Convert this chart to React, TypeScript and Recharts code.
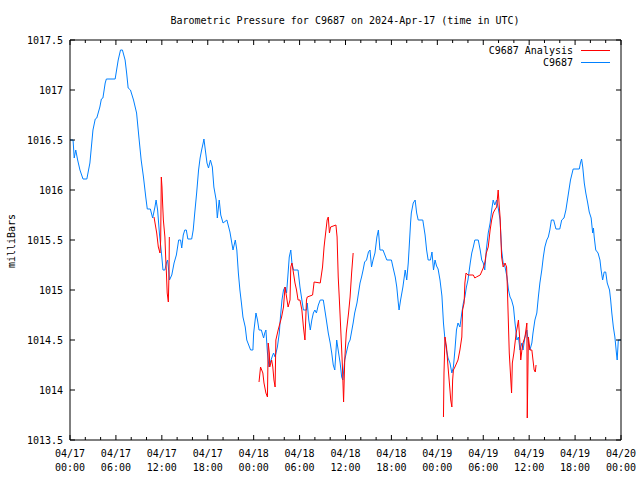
import { LineChart, Line, XAxis, YAxis } from "recharts";

const title = "Barometric Pressure for C9687 on 2024-Apr-17 (time in UTC)";
const yLabel = "milliBars";
const seriesNames = ["C9687 Analysis", "C9687"];
const seriesColors = ["#ff0000", "#0080ff"];

// hours since 04/17 00:00 UTC
const xMajor = [0, 6, 12, 18, 24, 30, 36, 42, 48, 54, 60, 66, 72];
const xDates = ["04/17", "04/17", "04/17", "04/17", "04/18", "04/18", "04/18", "04/18", "04/19", "04/19", "04/19", "04/19", "04/20"];
const xTimes = ["00:00", "06:00", "12:00", "18:00", "00:00", "06:00", "12:00", "18:00", "00:00", "06:00", "12:00", "18:00", "00:00"];
const xTicks = [0, 2, 4, 6, 8, 10, 12, 14, 16, 18, 20, 22, 24, 26, 28, 30, 32, 34, 36, 38, 40, 42, 44, 46, 48, 50, 52, 54, 56, 58, 60, 62, 64, 66, 68, 70, 72];
const yTicks = [1013.5, 1014, 1014.5, 1015, 1015.5, 1016, 1016.5, 1017, 1017.5];
const yTickLabels = ["1013.5", "1014", "1014.5", "1015", "1015.5", "1016", "1016.5", "1017", "1017.5"];

// [hour, mb]
const station: [number, number][] = [
  [0, 1016.5], [0.4, 1016.5], [0.55, 1016.32], [0.75, 1016.4], [1.0, 1016.3], [1.3, 1016.2], [1.7, 1016.11],
  [2.2, 1016.11], [2.6, 1016.27], [3.0, 1016.6], [3.3, 1016.71], [3.5, 1016.72], [3.9, 1016.83], [4.1, 1016.91],
  [4.3, 1016.92], [4.6, 1017.07], [4.75, 1017.11], [5.9, 1017.11], [6.3, 1017.3], [6.6, 1017.4], [6.85, 1017.4],
  [7.2, 1017.3], [7.4, 1017.17], [7.6, 1017.02], [7.9, 1017.0], [8.3, 1016.9], [8.7, 1016.77], [9.0, 1016.53],
  [9.3, 1016.3], [9.6, 1016.13], [9.9, 1015.93], [10.1, 1015.81], [10.5, 1015.81], [10.8, 1015.72], [11.1, 1015.83],
  [11.25, 1015.9], [11.45, 1015.8], [11.7, 1015.55], [12.0, 1015.33], [12.15, 1015.2], [12.4, 1015.2], [12.6, 1015.27],
  [12.75, 1015.3], [12.85, 1015.23], [13.0, 1015.1], [13.3, 1015.15], [13.6, 1015.27], [13.9, 1015.35], [14.2, 1015.5],
  [14.45, 1015.5], [14.6, 1015.42], [14.8, 1015.55], [15.0, 1015.6], [15.2, 1015.6], [15.4, 1015.51], [15.9, 1015.51],
  [16.1, 1015.6], [16.3, 1015.77], [16.55, 1015.97], [16.8, 1016.2], [17.0, 1016.32], [17.2, 1016.4], [17.4, 1016.47],
  [17.5, 1016.51], [17.65, 1016.42], [17.9, 1016.27], [18.1, 1016.22], [18.35, 1016.3], [18.6, 1016.23], [18.8, 1016.03],
  [19.1, 1015.9], [19.25, 1015.72], [19.5, 1015.9], [19.7, 1015.75], [20.0, 1015.67], [20.5, 1015.7], [20.9, 1015.58],
  [21.3, 1015.4], [21.6, 1015.5], [21.8, 1015.4], [22.0, 1015.17], [22.2, 1015.0], [22.4, 1014.87], [22.6, 1014.73],
  [22.9, 1014.63], [23.1, 1014.5], [23.4, 1014.44], [23.6, 1014.4], [23.9, 1014.4], [24.0, 1014.57], [24.3, 1014.77],
  [24.5, 1014.7], [24.7, 1014.6], [25.0, 1014.6], [25.3, 1014.52], [25.45, 1014.57], [25.6, 1014.6], [25.8, 1014.37],
  [26.0, 1014.23], [26.15, 1014.27], [26.4, 1014.33], [26.6, 1014.37], [26.8, 1014.33], [27.1, 1014.43], [27.35, 1014.57],
  [27.5, 1014.73], [27.7, 1014.9], [27.9, 1015.0], [28.1, 1015.03], [28.3, 1014.97], [28.5, 1015.17], [28.65, 1015.33],
  [28.85, 1015.4], [29.0, 1015.27], [29.2, 1015.2], [29.8, 1015.2], [30.05, 1015.03], [30.3, 1014.9], [30.5, 1014.8],
  [30.9, 1014.8], [31.0, 1014.87], [31.2, 1014.7], [31.4, 1014.6], [31.6, 1014.7], [31.8, 1014.77], [32.0, 1014.8],
  [32.2, 1014.77], [32.45, 1014.85], [32.7, 1014.9], [33.1, 1014.9], [33.3, 1014.8], [33.5, 1014.7], [33.75, 1014.57],
  [34.0, 1014.47], [34.2, 1014.37], [34.4, 1014.25], [34.6, 1014.2], [34.85, 1014.5], [35.1, 1014.37], [35.3, 1014.27],
  [35.5, 1014.13], [35.65, 1014.1], [35.9, 1014.3], [36.1, 1014.37], [36.4, 1014.47], [36.6, 1014.5], [37.0, 1014.67],
  [37.2, 1014.77], [37.5, 1014.87], [37.7, 1014.97], [37.9, 1015.07], [38.1, 1015.13], [38.3, 1015.2], [38.5, 1015.28],
  [38.75, 1015.3], [39.0, 1015.38], [39.2, 1015.4], [39.4, 1015.23], [39.6, 1015.3], [39.85, 1015.37], [40.1, 1015.53],
  [40.3, 1015.6], [40.5, 1015.4], [40.9, 1015.4], [41.4, 1015.3], [42.0, 1015.3], [42.2, 1015.23], [42.5, 1015.13],
  [42.7, 1015.03], [42.9, 1014.87], [43.0, 1014.8], [43.2, 1014.9], [43.5, 1015.03], [43.8, 1015.2], [44.0, 1015.1],
  [44.2, 1015.27], [44.3, 1015.4], [44.5, 1015.67], [44.6, 1015.77], [44.85, 1015.87], [45.1, 1015.9], [45.3, 1015.77],
  [45.5, 1015.7], [46.1, 1015.7], [46.4, 1015.55], [46.6, 1015.4], [46.8, 1015.3], [47.1, 1015.3], [47.3, 1015.38],
  [47.5, 1015.2], [47.7, 1015.3], [47.9, 1015.24], [48.1, 1015.21], [48.35, 1015.1], [48.6, 1014.94], [48.8, 1014.67],
  [49.0, 1014.5], [49.2, 1014.4], [49.4, 1014.32], [49.65, 1014.27], [49.9, 1014.17], [50.1, 1014.23], [50.3, 1014.4],
  [50.5, 1014.6], [50.7, 1014.67], [50.95, 1014.63], [51.2, 1014.77], [51.4, 1014.87], [51.6, 1014.93], [51.8, 1015.03],
  [52.0, 1015.1], [52.3, 1015.27], [52.5, 1015.37], [52.7, 1015.43], [52.9, 1015.5], [53.35, 1015.5], [53.6, 1015.4],
  [53.8, 1015.3], [54.0, 1015.27], [54.2, 1015.2], [54.4, 1015.4], [54.65, 1015.57], [54.9, 1015.67], [55.1, 1015.8],
  [55.3, 1015.9], [55.5, 1015.85], [55.75, 1015.9], [56.0, 1015.8], [56.2, 1015.7], [56.4, 1015.4], [56.6, 1015.27],
  [56.85, 1015.23], [57.1, 1015.13], [57.3, 1015.0], [57.5, 1014.93], [57.7, 1014.9], [57.95, 1014.83], [58.15, 1014.67],
  [58.4, 1014.5], [58.6, 1014.53], [58.8, 1014.4], [59.05, 1014.47], [59.2, 1014.4], [59.45, 1014.53], [59.7, 1014.6],
  [59.9, 1014.47], [60.1, 1014.4], [60.35, 1014.47], [60.5, 1014.57], [60.75, 1014.7], [61.0, 1014.77], [61.2, 1014.93],
  [61.4, 1015.07], [61.65, 1015.2], [61.85, 1015.33], [62.05, 1015.43], [62.3, 1015.5], [62.5, 1015.53], [62.7, 1015.6],
  [62.9, 1015.7], [63.2, 1015.7], [63.5, 1015.61], [64.0, 1015.61], [64.25, 1015.7], [64.55, 1015.72], [64.8, 1015.8],
  [65.0, 1015.9], [65.2, 1016.0], [65.4, 1016.1], [65.75, 1016.21], [66.55, 1016.21], [66.7, 1016.27], [66.85, 1016.31],
  [67.0, 1016.23], [67.2, 1016.07], [67.4, 1015.97], [67.65, 1015.87], [67.85, 1015.78], [68.1, 1015.72], [68.3, 1015.57],
  [68.4, 1015.62], [68.5, 1015.53], [68.7, 1015.4], [69.0, 1015.37], [69.25, 1015.3], [69.4, 1015.2], [69.6, 1015.1],
  [69.8, 1015.18], [70.0, 1015.18], [70.2, 1015.07], [70.5, 1015.0], [70.65, 1014.9], [70.8, 1014.77], [71.0, 1014.63],
  [71.2, 1014.53], [71.4, 1014.37], [71.5, 1014.3], [71.65, 1014.5], [72.0, 1014.5],
];

// analysis has gaps (null)
const analysis: [number, number | null][] = [
  [10.98, 1015.73], [11.33, 1015.57], [11.54, 1015.43], [11.76, 1015.37], [11.85, 1015.5], [11.93, 1016.13],
  [12.02, 1016.03], [12.1, 1015.87], [12.2, 1015.7], [12.4, 1015.53], [12.5, 1015.33], [12.6, 1015.17],
  [12.7, 1014.97], [12.85, 1014.88], [12.94, 1015.17], [12.98, 1015.53], [13.2, null],
  [24.7, 1014.08], [24.9, 1014.23], [25.2, 1014.17], [25.35, 1014.07], [25.6, 1013.97], [25.8, 1013.93],
  [25.9, 1014.47], [26.05, 1014.37], [26.1, 1014.23], [26.35, 1014.3], [26.5, 1014.23], [26.65, 1014.1],
  [26.8, 1014.03], [26.9, 1014.5], [27.2, 1014.6], [27.65, 1014.73], [27.9, 1014.83], [28.1, 1015.03],
  [28.3, 1014.93], [28.5, 1014.83], [28.75, 1014.9], [28.85, 1015.23], [29.0, 1015.27], [29.2, 1015.17],
  [29.4, 1015.07], [29.6, 1015.0], [29.8, 1014.9], [30.05, 1014.9], [30.3, 1014.8], [30.5, 1014.63],
  [30.7, 1014.5], [30.9, 1014.9], [31.0, 1014.93], [31.7, 1014.95], [31.9, 1015.08], [32.7, 1015.07],
  [33.0, 1015.23], [33.2, 1015.43], [33.3, 1015.5], [33.45, 1015.6], [33.6, 1015.7], [33.75, 1015.73],
  [33.9, 1015.57], [34.05, 1015.63], [34.75, 1015.65], [34.9, 1015.53], [35.05, 1015.13], [35.2, 1014.9],
  [35.4, 1014.57], [35.6, 1014.23], [35.75, 1013.88], [35.9, 1014.3], [36.1, 1014.57], [36.4, 1014.77],
  [36.6, 1014.93], [36.8, 1015.17], [37.0, 1015.37], [37.2, null],
  [48.8, 1013.73], [48.87, 1014.17], [49.0, 1014.53], [49.2, 1014.43], [49.4, 1014.23], [49.65, 1014.0],
  [49.75, 1013.9], [49.9, 1013.83], [50.0, 1014.1], [50.1, 1014.2], [50.3, 1014.23], [50.7, 1014.3],
  [50.95, 1014.4], [51.2, 1014.53], [51.3, 1014.8], [51.5, 1014.87], [51.6, 1015.07], [51.75, 1015.17],
  [52.0, 1015.15], [52.7, 1015.15], [52.9, 1015.12], [53.1, 1015.13], [53.6, 1015.15], [54.0, 1015.22],
  [54.2, 1015.27], [54.4, 1015.37], [54.65, 1015.43], [54.9, 1015.6], [55.1, 1015.7], [55.3, 1015.77],
  [55.5, 1015.8], [55.75, 1015.83], [55.95, 1016.0], [56.1, 1015.83], [56.2, 1015.73], [56.4, 1015.33],
  [56.6, 1015.23], [56.85, 1015.27], [57.05, 1015.23], [57.15, 1015.03], [57.3, 1014.63], [57.4, 1014.37],
  [57.6, 1014.1], [57.7, 1013.97], [57.8, 1014.27], [58.0, 1014.37], [58.3, 1014.57], [58.45, 1014.63],
  [58.6, 1014.7], [58.8, 1014.47], [58.9, 1014.3], [59.05, 1014.4], [59.2, 1014.47], [59.45, 1014.53],
  [59.7, 1014.67], [59.75, 1013.72], [59.9, 1014.53], [60.1, 1014.4], [60.35, 1014.4], [60.5, 1014.3],
  [60.65, 1014.2], [60.8, 1014.18], [60.9, 1014.25],
];

const FONT = "'DejaVu Sans Mono', 'Liberation Mono', monospace";

const stationData = station.map(([h, p]) => ({ h, p }));
const analysisData = analysis.map(([h, p]) => ({ h, p }));

function BottomTick({ x, y, payload }: any) {
  const i = xMajor.indexOf(payload.value);
  const major = i >= 0;
  return (
    <g>
      <line x1={x} x2={x} y1={y} y2={y - (major ? 5 : 3)} stroke="#000" />
      {major && (
        <text textAnchor="middle" fontSize={10} fontFamily={FONT} fill="#000">
          <tspan x={x} y={y + 13} dominantBaseline="central">{xDates[i]}</tspan>
          <tspan x={x} y={y + 27} dominantBaseline="central">{xTimes[i]}</tspan>
        </text>
      )}
    </g>
  );
}

function TopTick({ x, y, payload }: any) {
  const major = xMajor.includes(payload.value);
  return <line x1={x} x2={x} y1={y} y2={y + (major ? 5 : 3)} stroke="#000" />;
}

function LeftTick({ x, y, payload }: any) {
  const i = yTicks.indexOf(payload.value);
  return (
    <g>
      <line x1={x} x2={x + 5} y1={y} y2={y} stroke="#000" />
      <text x={x - 7} y={y} textAnchor="end" dominantBaseline="central" fontSize={10} fontFamily={FONT} fill="#000">
        {yTickLabels[i]}
      </text>
    </g>
  );
}

function RightTick({ x, y }: any) {
  return <line x1={x} x2={x - 5} y1={y} y2={y} stroke="#000" />;
}

export default function App() {
  return (
    <div style={{ position: "absolute", left: 0, top: 0, width: 640, height: 480, background: "#fff" }}>
      <LineChart width={640} height={480} margin={{ top: 39, right: 18, bottom: 0, left: 0 }}>
        <XAxis
          dataKey="h"
          type="number"
          domain={[0, 72]}
          allowDataOverflow
          ticks={xTicks}
          interval={0}
          height={40}
          tickSize={0}
          tickMargin={0}
          tickLine={false}
          stroke="#000"
          tick={<BottomTick />}
        />
        <XAxis
          xAxisId="top"
          orientation="top"
          dataKey="h"
          type="number"
          domain={[0, 72]}
          allowDataOverflow
          ticks={xTicks}
          interval={0}
          height={1}
          tickSize={0}
          tickMargin={0}
          tickLine={false}
          stroke="#000"
          tick={<TopTick />}
        />
        <YAxis
          type="number"
          domain={[1013.5, 1017.5]}
          allowDataOverflow
          ticks={yTicks}
          interval={0}
          width={70}
          tickSize={0}
          tickMargin={0}
          tickLine={false}
          stroke="#000"
          tick={<LeftTick />}
        />
        <YAxis
          yAxisId="right"
          orientation="right"
          type="number"
          domain={[1013.5, 1017.5]}
          allowDataOverflow
          ticks={yTicks}
          interval={0}
          width={1}
          tickSize={0}
          tickMargin={0}
          tickLine={false}
          stroke="#000"
          tick={<RightTick />}
        />
        <Line
          xAxisId="top"
          data={stationData}
          dataKey="p"
          type="linear"
          stroke={seriesColors[1]}
          strokeWidth={1}
          dot={false}
          activeDot={false}
          isAnimationActive={false}
        />
        <Line
          yAxisId="right"
          data={analysisData}
          dataKey="p"
          type="linear"
          stroke={seriesColors[0]}
          strokeWidth={1}
          dot={false}
          activeDot={false}
          connectNulls={false}
          isAnimationActive={false}
        />
      </LineChart>
      <svg
        width={640}
        height={480}
        style={{ position: "absolute", left: 0, top: 0, pointerEvents: "none" }}
        fontFamily={FONT}
        fontSize={10}
      >
        <text x={345} y={20} textAnchor="middle" dominantBaseline="central" fill="#000">
          {title}
        </text>
        <text x={11} y={241} transform="rotate(-90 11 241)" textAnchor="middle" dominantBaseline="central" fill="#000">
          {yLabel}
        </text>
        {seriesNames.map((name, i) => (
          <g key={name}>
            <text x={573} y={50.5 + i * 12} textAnchor="end" dominantBaseline="central" fill="#000">
              {name}
            </text>
            <line x1={581} x2={610} y1={50.5 + i * 12} y2={50.5 + i * 12} stroke={seriesColors[i]} />
          </g>
        ))}
      </svg>
    </div>
  );
}
